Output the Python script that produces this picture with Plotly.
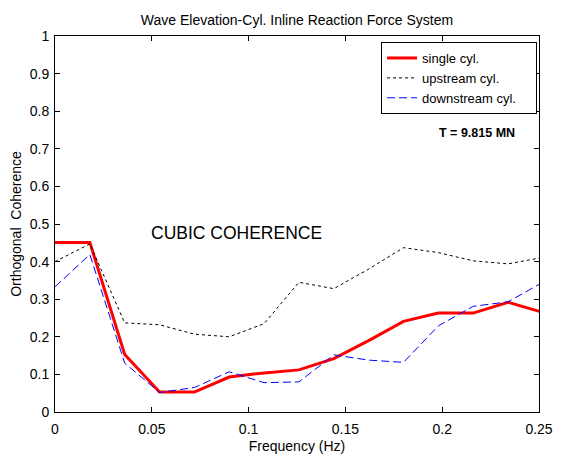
import plotly.graph_objects as go

freq = [0.0, 0.018, 0.036, 0.054, 0.072, 0.090, 0.108, 0.126, 0.144, 0.162, 0.180, 0.198, 0.216, 0.234, 0.252]
single = [0.451, 0.451, 0.153, 0.053, 0.053, 0.093, 0.104, 0.112, 0.142, 0.190, 0.241, 0.263, 0.263, 0.292, 0.265]
upstream = [0.400, 0.447, 0.237, 0.232, 0.207, 0.200, 0.235, 0.345, 0.328, 0.380, 0.437, 0.424, 0.402, 0.394, 0.411]
downstream = [0.333, 0.419, 0.130, 0.052, 0.065, 0.107, 0.078, 0.080, 0.152, 0.138, 0.132, 0.229, 0.281, 0.293, 0.345]

series_names = ["single cyl.", "upstream cyl.", "downstream cyl."]
xticks = [0, 0.05, 0.1, 0.15, 0.2, 0.25]
xticklabels = ["0", "0.05", "0.1", "0.15", "0.2", "0.25"]
yticks = [0, 0.1, 0.2, 0.3, 0.4, 0.5, 0.6, 0.7, 0.8, 0.9, 1]
yticklabels = ["0", "0.1", "0.2", "0.3", "0.4", "0.5", "0.6", "0.7", "0.8", "0.9", "1"]

font = "Liberation Sans, Arial, sans-serif"
fs = 14
pad = "\u00a0" * 4

fig = go.Figure()
fig.add_trace(go.Scatter(x=freq, y=single, mode="lines", name=series_names[0],
                         line=dict(color="#FF0000", width=3)))
fig.add_trace(go.Scatter(x=freq, y=upstream, mode="lines", name=series_names[1],
                         line=dict(color="#000000", width=1, dash="dot")))
fig.add_trace(go.Scatter(x=freq, y=downstream, mode="lines", name=series_names[2] + pad,
                         line=dict(color="#0000FF", width=1, dash="8px,4px")))

axis_common = dict(showline=True, linecolor="black", linewidth=1, mirror="ticks",
                   ticks="inside", ticklen=5, tickcolor="black", showgrid=False,
                   zeroline=False, automargin=False,
                   tickfont=dict(family=font, size=fs, color="black"))

fig.update_layout(
    width=563, height=457,
    paper_bgcolor="white", plot_bgcolor="white",
    margin=dict(l=55, r=24, t=36, b=45),
    font=dict(family=font, size=fs, color="black"),
    title=dict(text="Wave Elevation-Cyl. Inline Reaction Force System",
               x=0.5, xanchor="center", xref="paper", y=1 - 20 / 457, yanchor="middle",
               font=dict(family=font, size=fs, color="black")),
    xaxis=dict(range=[0, 0.25], tickvals=xticks, ticktext=xticklabels,
               ticklabelstandoff=4,
               title=dict(text="Frequency (Hz)", standoff=5, font=dict(family=font, size=fs)),
               **axis_common),
    yaxis=dict(range=[0, 1], tickvals=yticks, ticktext=yticklabels,
               ticklabelstandoff=2,
               title=dict(text="Orthogonal  Coherence", standoff=4, font=dict(family=font, size=fs)),
               **axis_common),
    showlegend=True,
    legend=dict(x=0.996, xanchor="right", y=0.984, yanchor="top",
                bordercolor="black", borderwidth=1, bgcolor="white",
                font=dict(family=font, size=13, color="black"),
                itemwidth=30, tracegroupgap=0),
    annotations=[
        dict(text="CUBIC COHERENCE", x=0.0485, y=0.477, xref="x", yref="y",
             xanchor="left", yanchor="middle", showarrow=False,
             font=dict(family=font, size=17.5, color="black")),
        dict(text="<b>T = 9.815 MN</b>", x=0.1975, y=0.743, xref="x", yref="y",
             xanchor="left", yanchor="middle", showarrow=False,
             font=dict(family=font, size=12.5, color="black")),
    ],
)

fig.write_html("out.html")
